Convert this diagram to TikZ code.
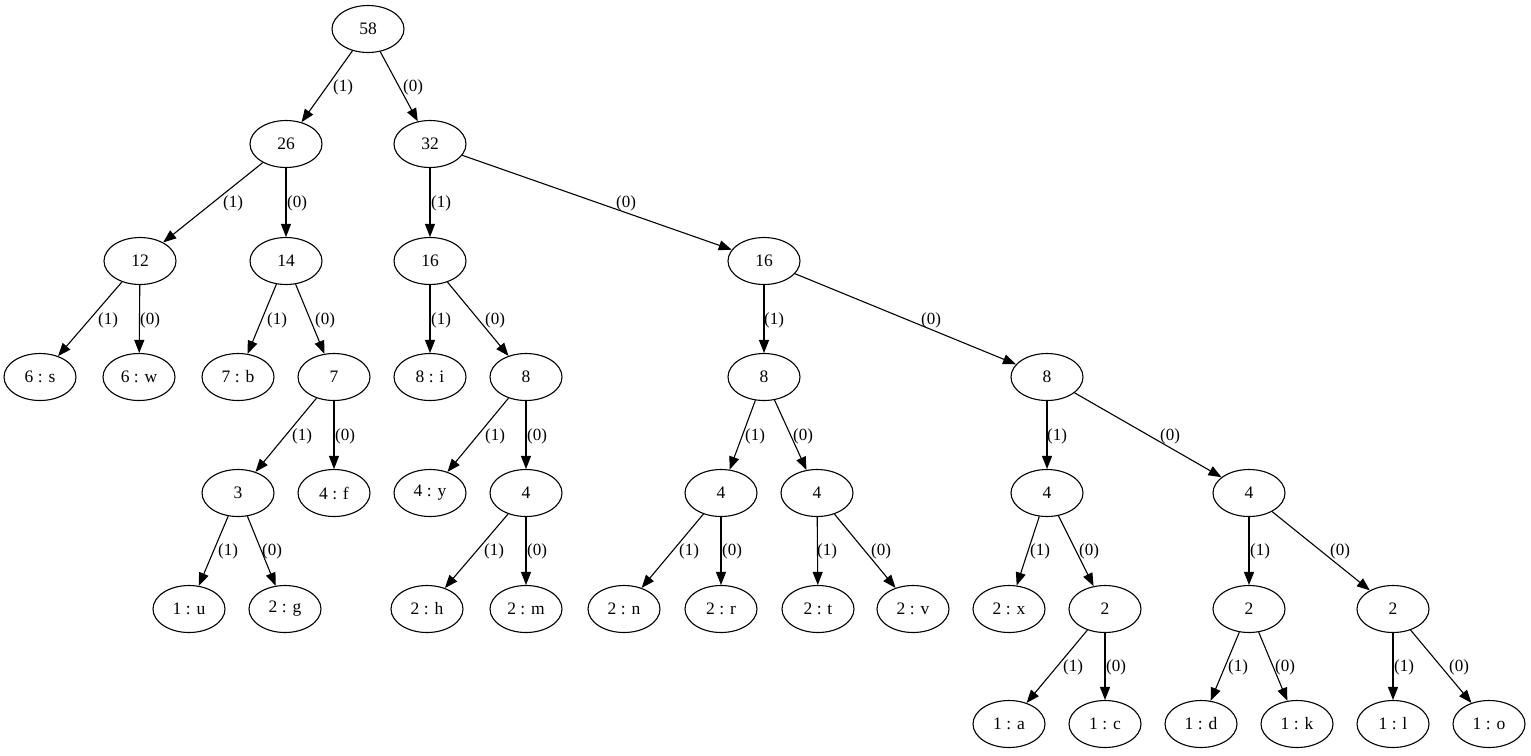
\documentclass[tikz,border=0pt]{standalone}
\usepackage{fontspec}
\setmainfont{Liberation Serif}
\usetikzlibrary{shapes.geometric,arrows.meta}
\begin{document}
\begin{tikzpicture}[x=1pt,y=-1pt,
  nd/.style={draw, line width=1.1pt, ellipse, minimum width=72pt, minimum height=47pt, inner sep=0pt, font=\fontsize{17.5}{20}\selectfont},
  edge/.style={draw, line width=1.1pt, -{Triangle[length=13pt,width=10pt]}},
  lbl/.style={font=\fontsize{17}{20}\selectfont, inner sep=0pt}]
\useasboundingbox[fill=white] (0,0) rectangle (1531,755);
% level y: 29,144,261,377,493,609,724
\node[nd] (n58) at (368,29) {58};
\node[nd] (n26) at (286,144) {26};
\node[nd] (n32) at (430,144) {32};
\node[nd] (n12) at (140,261) {12};
\node[nd] (n14) at (286,261) {14};
\node[nd] (n16a) at (430,261) {16};
\node[nd] (n16b) at (764,261) {16};
\node[nd] (s) at (40,377) {6 : s};
\node[nd] (w) at (139,377) {6 : w};
\node[nd] (b) at (238,377) {7 : b};
\node[nd] (n7) at (334,377) {7};
\node[nd] (i) at (430,377) {8 : i};
\node[nd] (n8a) at (526,377) {8};
\node[nd] (n8b) at (764,377) {8};
\node[nd] (n8c) at (1047,377) {8};
\node[nd] (n3) at (238,493) {3};
\node[nd] (f) at (334,493) {4 : f};
\node[nd] (y) at (430,493) {4 : y};
\node[nd] (n4a) at (526,493) {4};
\node[nd] (n4b) at (721,493) {4};
\node[nd] (n4c) at (817,493) {4};
\node[nd] (n4d) at (1047,493) {4};
\node[nd] (n4e) at (1249,493) {4};
\node[nd] (u) at (189,609) {1 : u};
\node[nd] (g) at (285,609) {2 : g};
\node[nd] (h) at (427,609) {2 : h};
\node[nd] (m) at (526,609) {2 : m};
\node[nd] (n) at (624,609) {2 : n};
\node[nd] (r) at (721,609) {2 : r};
\node[nd] (t) at (818,609) {2 : t};
\node[nd] (v) at (913,609) {2 : v};
\node[nd] (x) at (1009,609) {2 : x};
\node[nd] (n2a) at (1105,609) {2};
\node[nd] (n2b) at (1249,609) {2};
\node[nd] (n2c) at (1393,609) {2};
\node[nd] (a) at (1009,724) {1 : a};
\node[nd] (c) at (1105,724) {1 : c};
\node[nd] (d) at (1201,724) {1 : d};
\node[nd] (k) at (1297,724) {1 : k};
\node[nd] (l) at (1393,724) {1 : l};
\node[nd] (o) at (1489,724) {1 : o};
% edges
\draw[edge] (n58) -- (n26);
\draw[edge] (n58) -- (n32);
\draw[edge] (n26) -- (n12);
\draw[edge] (n26) -- (n14);
\draw[edge] (n32) -- (n16a);
\draw[edge] (n32) -- (n16b);
\draw[edge] (n12) -- (s);
\draw[edge] (n12) -- (w);
\draw[edge] (n14) -- (b);
\draw[edge] (n14) -- (n7);
\draw[edge] (n16a) -- (i);
\draw[edge] (n16a) -- (n8a);
\draw[edge] (n16b) -- (n8b);
\draw[edge] (n16b) -- (n8c);
\draw[edge] (n7) -- (n3);
\draw[edge] (n7) -- (f);
\draw[edge] (n8a) -- (y);
\draw[edge] (n8a) -- (n4a);
\draw[edge] (n8b) -- (n4b);
\draw[edge] (n8b) -- (n4c);
\draw[edge] (n8c) -- (n4d);
\draw[edge] (n8c) -- (n4e);
\draw[edge] (n3) -- (u);
\draw[edge] (n3) -- (g);
\draw[edge] (n4a) -- (h);
\draw[edge] (n4a) -- (m);
\draw[edge] (n4b) -- (n);
\draw[edge] (n4b) -- (r);
\draw[edge] (n4c) -- (t);
\draw[edge] (n4c) -- (v);
\draw[edge] (n4d) -- (x);
\draw[edge] (n4d) -- (n2a);
\draw[edge] (n4e) -- (n2b);
\draw[edge] (n4e) -- (n2c);
\draw[edge] (n2a) -- (a);
\draw[edge] (n2a) -- (c);
\draw[edge] (n2b) -- (d);
\draw[edge] (n2b) -- (k);
\draw[edge] (n2c) -- (l);
\draw[edge] (n2c) -- (o);
% labels
\node[lbl] (l1) at (343,87) {(1)};
\node[lbl] (l2) at (413,87) {(0)};
\node[lbl] (l3) at (233,203) {(1)};
\node[lbl] (l4) at (297,203) {(0)};
\node[lbl] (l5) at (441,203) {(1)};
\node[lbl] (l6) at (626,203) {(0)};
\node[lbl] (l7) at (108,320) {(1)};
\node[lbl] (l8) at (150,320) {(0)};
\node[lbl] (l9) at (277,320) {(1)};
\node[lbl] (l10) at (325,320) {(0)};
\node[lbl] (l11) at (441,320) {(1)};
\node[lbl] (l12) at (495,320) {(0)};
\node[lbl] (l13) at (774,320) {(1)};
\node[lbl] (l14) at (931,320) {(0)};
\node[lbl] (l15) at (302,436) {(1)};
\node[lbl] (l16) at (345,436) {(0)};
\node[lbl] (l17) at (495,436) {(1)};
\node[lbl] (l18) at (537,436) {(0)};
\node[lbl] (l19) at (755,436) {(1)};
\node[lbl] (l20) at (803,436) {(0)};
\node[lbl] (l21) at (1057,436) {(1)};
\node[lbl] (l22) at (1170,436) {(0)};
\node[lbl] (l23) at (228,551) {(1)};
\node[lbl] (l24) at (272,551) {(0)};
\node[lbl] (l25) at (494,551) {(1)};
\node[lbl] (l26) at (537,551) {(0)};
\node[lbl] (l27) at (689,551) {(1)};
\node[lbl] (l28) at (732,551) {(0)};
\node[lbl] (l29) at (827,551) {(1)};
\node[lbl] (l30) at (881,551) {(0)};
\node[lbl] (l31) at (1040,551) {(1)};
\node[lbl] (l32) at (1089,551) {(0)};
\node[lbl] (l33) at (1260,551) {(1)};
\node[lbl] (l34) at (1340,551) {(0)};
\node[lbl] (l35) at (1073,667) {(1)};
\node[lbl] (l36) at (1116,667) {(0)};
\node[lbl] (l37) at (1238,667) {(1)};
\node[lbl] (l38) at (1285,667) {(0)};
\node[lbl] (l39) at (1404,667) {(1)};
\node[lbl] (l40) at (1459,667) {(0)};
\end{tikzpicture}
\end{document}
